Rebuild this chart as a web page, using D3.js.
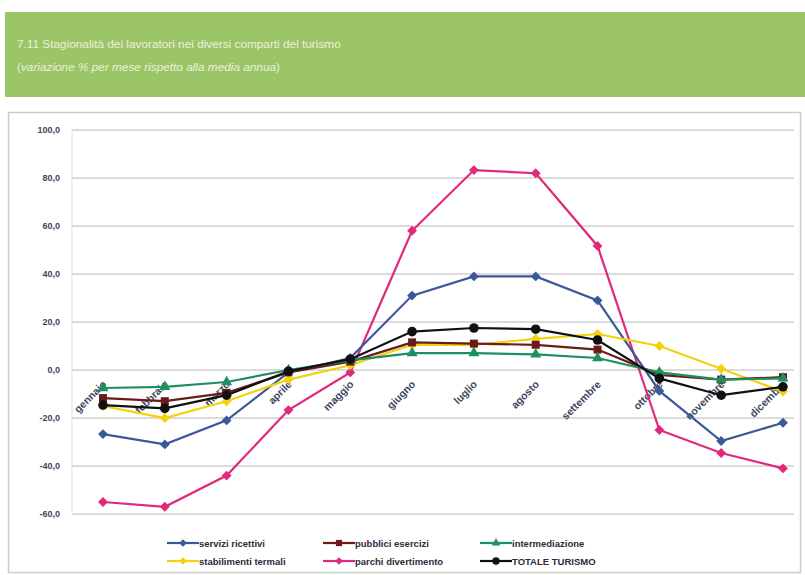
<!DOCTYPE html>
<html>
<head>
<meta charset="utf-8">
<script src="https://cdn.jsdelivr.net/npm/d3@7"></script>
<style>
  body { margin: 0; background: #fff; }
  svg { display: block; font-family: "Liberation Sans", Arial, sans-serif; }
</style>
</head>
<body>
<div id="chart"></div>
<script>
// Data
const months = ["gennaio", "febbraio", "marzo", "aprile", "maggio", "giugno",
  "luglio", "agosto", "settembre", "ottobre", "novembre", "dicembre"]
const yTicks = [-60, -40, -20, 0, 20, 40, 60, 80, 100]

const serviziRicettivi = [-26.7, -31, -21, -1, 5, 31, 39, 39, 29, -8.7, -29.6, -22]
const pubbliciEsercizi = [-11.7, -13, -9.5, -1, 3.5, 11.5, 11, 10.5, 8.5, -2, -4, -3]
const intermediazione = [-7.5, -7, -5, 0, 4, 7, 7, 6.5, 5, -1, -4, -3.5]
const stabilimentiTermali = [-15, -20, -13, -4, 2, 10.5, 10.5, 13, 15, 10, 0.5, -9]
const parchiDivertimento = [-55, -57, -44, -16.7, -1, 58, 83.3, 82, 51.7, -25, -34.6, -41]
const totaleTurismo = [-14.6, -16, -10.5, -0.5, 4.5, 16, 17.5, 17, 12.5, -3.5, -10.5, -7]

const series = [
  { name: "servizi ricettivi", values: serviziRicettivi, color: "#3b5998", marker: "diamond" },
  { name: "pubblici esercizi", values: pubbliciEsercizi, color: "#6b1b1b", marker: "square" },
  { name: "intermediazione", values: intermediazione, color: "#1f8f5f", marker: "triangle" },
  { name: "stabilimenti termali", values: stabilimentiTermali, color: "#f2d20a", marker: "diamond" },
  { name: "parchi divertimento", values: parchiDivertimento, color: "#e0287c", marker: "diamond" },
  { name: "TOTALE TURISMO", values: totaleTurismo, color: "#111111", marker: "circle" }
]
// drawing order (back to front)
const drawOrder = [4, 0, 3, 1, 2, 5]

const svgWidth = 805
const svgHeight = 575

let svg = d3.select("#chart")
  .append("svg")
  .attr("width", svgWidth)
  .attr("height", svgHeight)

// Header band
svg.append("rect")
  .attr("x", 5).attr("y", 12)
  .attr("width", 800).attr("height", 85)
  .attr("fill", "#9cc568")

let title = svg.append("text")
  .attr("x", 17).attr("y", 48)
  .attr("fill", "#e9f1dc")
  .style("font-size", "11.8px")
title.text("7.11 Stagionalità dei lavoratori nei diversi comparti del turismo")

let subtitle = svg.append("text")
  .attr("x", 17).attr("y", 71)
  .attr("fill", "#e9f1dc")
  .style("font-size", "11.8px")
subtitle.append("tspan").text("(")
subtitle.append("tspan").style("font-style", "italic").text("variazione % per mese rispetto alla media annua")
subtitle.append("tspan").text(")")

// Chart frame
svg.append("rect")
  .attr("x", 8.5).attr("y", 112.5)
  .attr("width", 792).attr("height", 460)
  .attr("fill", "#fff")
  .attr("stroke", "#c9cfc4")
  .attr("stroke-width", 1.5)

// Scales
let x = d3.scalePoint()
  .domain(months)
  .range([103, 783])

let y = d3.scaleLinear()
  .domain([-60, 100])
  .range([514, 130])

const plotLeft = 72
const plotRight = 794

// Gridlines
svg.append("g")
  .selectAll("line")
  .data(yTicks)
  .enter()
  .append("line")
  .attr("x1", plotLeft).attr("x2", plotRight)
  .attr("y1", d => y(d)).attr("y2", d => y(d))
  .attr("stroke", "#cfcfcf")
  .attr("stroke-width", 1.5)

svg.append("line")
  .attr("x1", plotLeft).attr("x2", plotLeft)
  .attr("y1", y(100)).attr("y2", y(-60))
  .attr("stroke", "#e2e2e2")
  .attr("stroke-width", 1)

// Y axis labels
let leftAxis = d3.axisLeft(y)
  .tickValues(yTicks)
  .tickSize(0)
  .tickPadding(12)
  .tickFormat(d => d.toFixed(1).replace(".", ","))

let yAxis = svg.append("g")
  .attr("transform", `translate(${plotLeft}, 0)`)
  .call(leftAxis)
yAxis.select(".domain").remove()
yAxis.selectAll("text")
  .attr("fill", "#3e4660")
  .style("font-size", "9px")
  .style("font-weight", "bold")
  .style("font-family", "Liberation Sans, Arial, sans-serif")

// X axis labels (axis crosses at 0)
svg.append("g")
  .selectAll("text")
  .data(months)
  .enter()
  .append("text")
  .attr("transform", d => `translate(${x(d) + 4}, ${y(0) + 15}) rotate(-45)`)
  .attr("text-anchor", "end")
  .attr("fill", "#3e4660")
  .style("font-size", "10.5px")
  .style("font-weight", "bold")
  .text(d => d)

// Markers
function symbolFor(marker, scale) {
  let s = scale || 1
  if (marker === "diamond") return d3.symbol().type(d3.symbolDiamond2).size(62 * s)()
  if (marker === "square") return d3.symbol().type(d3.symbolSquare).size(64 * s)()
  if (marker === "triangle") return d3.symbol().type(d3.symbolTriangle).size(52 * s)()
  return d3.symbol().type(d3.symbolCircle).size(72 * s)()
}

let line = d3.line()
  .x((d, i) => x(months[i]))
  .y(d => y(d))

drawOrder.forEach(k => {
  let s = series[k]
  let g = svg.append("g")
  g.append("path")
    .datum(s.values)
    .attr("d", line)
    .attr("fill", "none")
    .attr("stroke", s.color)
    .attr("stroke-width", 2.2)
  g.selectAll("path.marker")
    .data(s.values)
    .enter()
    .append("path")
    .attr("class", "marker")
    .attr("transform", (d, i) => `translate(${x(months[i])}, ${y(d)})`)
    .attr("d", symbolFor(s.marker))
    .attr("fill", s.color)
})

// Legend
const legendCols = [167, 323, 480]
const legendRows = [543, 561]

let legend = svg.append("g")
series.forEach((s, i) => {
  let lx = legendCols[i % 3]
  let ly = legendRows[Math.floor(i / 3)]
  let item = legend.append("g").attr("transform", `translate(${lx}, ${ly})`)
  item.append("line")
    .attr("x1", 0).attr("x2", 32)
    .attr("y1", 0).attr("y2", 0)
    .attr("stroke", s.color)
    .attr("stroke-width", 2.2)
  item.append("path")
    .attr("transform", "translate(16, 0)")
    .attr("d", symbolFor(s.marker, 0.6))
    .attr("fill", s.color)
  item.append("text")
    .attr("x", 32).attr("y", 3.5)
    .attr("fill", "#2b2b3a")
    .style("font-size", "9.5px")
    .style("font-weight", "bold")
    .text(s.name)
})
</script>
</body>
</html>
